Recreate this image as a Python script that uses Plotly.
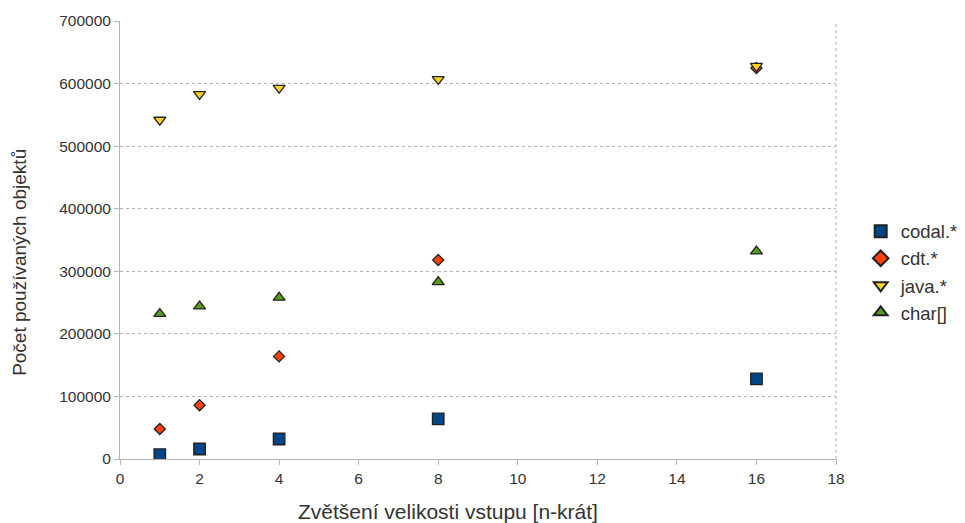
import plotly.graph_objects as go

x_vals = [1, 2, 4, 8, 16]
codal = [7000, 16000, 32000, 64000, 128000]
cdt = [48000, 86000, 164000, 318000, 625000]
java = [542000, 583000, 593000, 607000, 628000]
char = [232000, 244000, 258000, 283000, 332000]

series = [
    ("codal.*", codal, "square", "#004586", 11.5),
    ("cdt.*", cdt, "diamond", "#ff420e", 8.5),
    ("java.*", java, "triangle-down", "#ffd320", 10.5),
    ("char[]", char, "triangle-up", "#579d1c", 10.5),
]

fig = go.Figure()
for name, vals, sym, col, sz in series:
    fig.add_trace(go.Scatter(
        x=x_vals, y=vals, mode="markers", name=name,
        marker=dict(symbol=sym, color=col, size=sz,
                    line=dict(color="#222222", width=1.3)),
    ))

fig.update_layout(
    width=957, height=515,
    margin=dict(l=112, r=129, t=13, b=64),
    paper_bgcolor="white", plot_bgcolor="white",
    font=dict(family="Liberation Sans, Arial, sans-serif", color="#333333", size=15),
    legend=dict(xref="container", yref="container", x=0.891, xanchor="left",
                y=0.487, yanchor="middle",
                font=dict(size=18.5, color="#333333"), itemsizing="constant",
                tracegroupgap=0, bgcolor="rgba(0,0,0,0)", borderwidth=0),
    showlegend=True,
)
fig.update_xaxes(
    range=[0, 18], dtick=2, tick0=0, showgrid=False, automargin=False,
    showline=True, linecolor="#b3b3b3", linewidth=1,
    ticks="outside", ticklen=5, tickcolor="#b3b3b3",
    tickfont=dict(size=15.5, color="#333333"),
    zeroline=False,
)
fig.update_yaxes(
    range=[0, 700000], dtick=100000, tickformat="d", automargin=False,
    showgrid=True, gridcolor="#b3b3b3", griddash="dot", gridwidth=1,
    showline=True, linecolor="#b3b3b3", linewidth=1,
    ticks="outside", ticklen=5, tickcolor="#b3b3b3",
    tickfont=dict(size=15.5, color="#333333"),
    zeroline=False,
)
fig.add_annotation(text="Zvětšení velikosti vstupu [n-krát]", xref="paper", yref="paper",
                   x=0.458, y=-0.121, xanchor="center", yanchor="middle", showarrow=False,
                   font=dict(size=21, color="#333333"))
fig.add_annotation(text="Počet používaných objektů", xref="paper", yref="paper",
                   x=-0.1397, y=0.45, xanchor="center", yanchor="middle", showarrow=False,
                   textangle=-90, font=dict(size=19, color="#333333"))
fig.add_shape(type="line", xref="paper", yref="paper", x0=1, x1=1, y0=0, y1=1,
              line=dict(color="#b3b3b3", width=1, dash="dot"))

fig.write_html("out.html")
